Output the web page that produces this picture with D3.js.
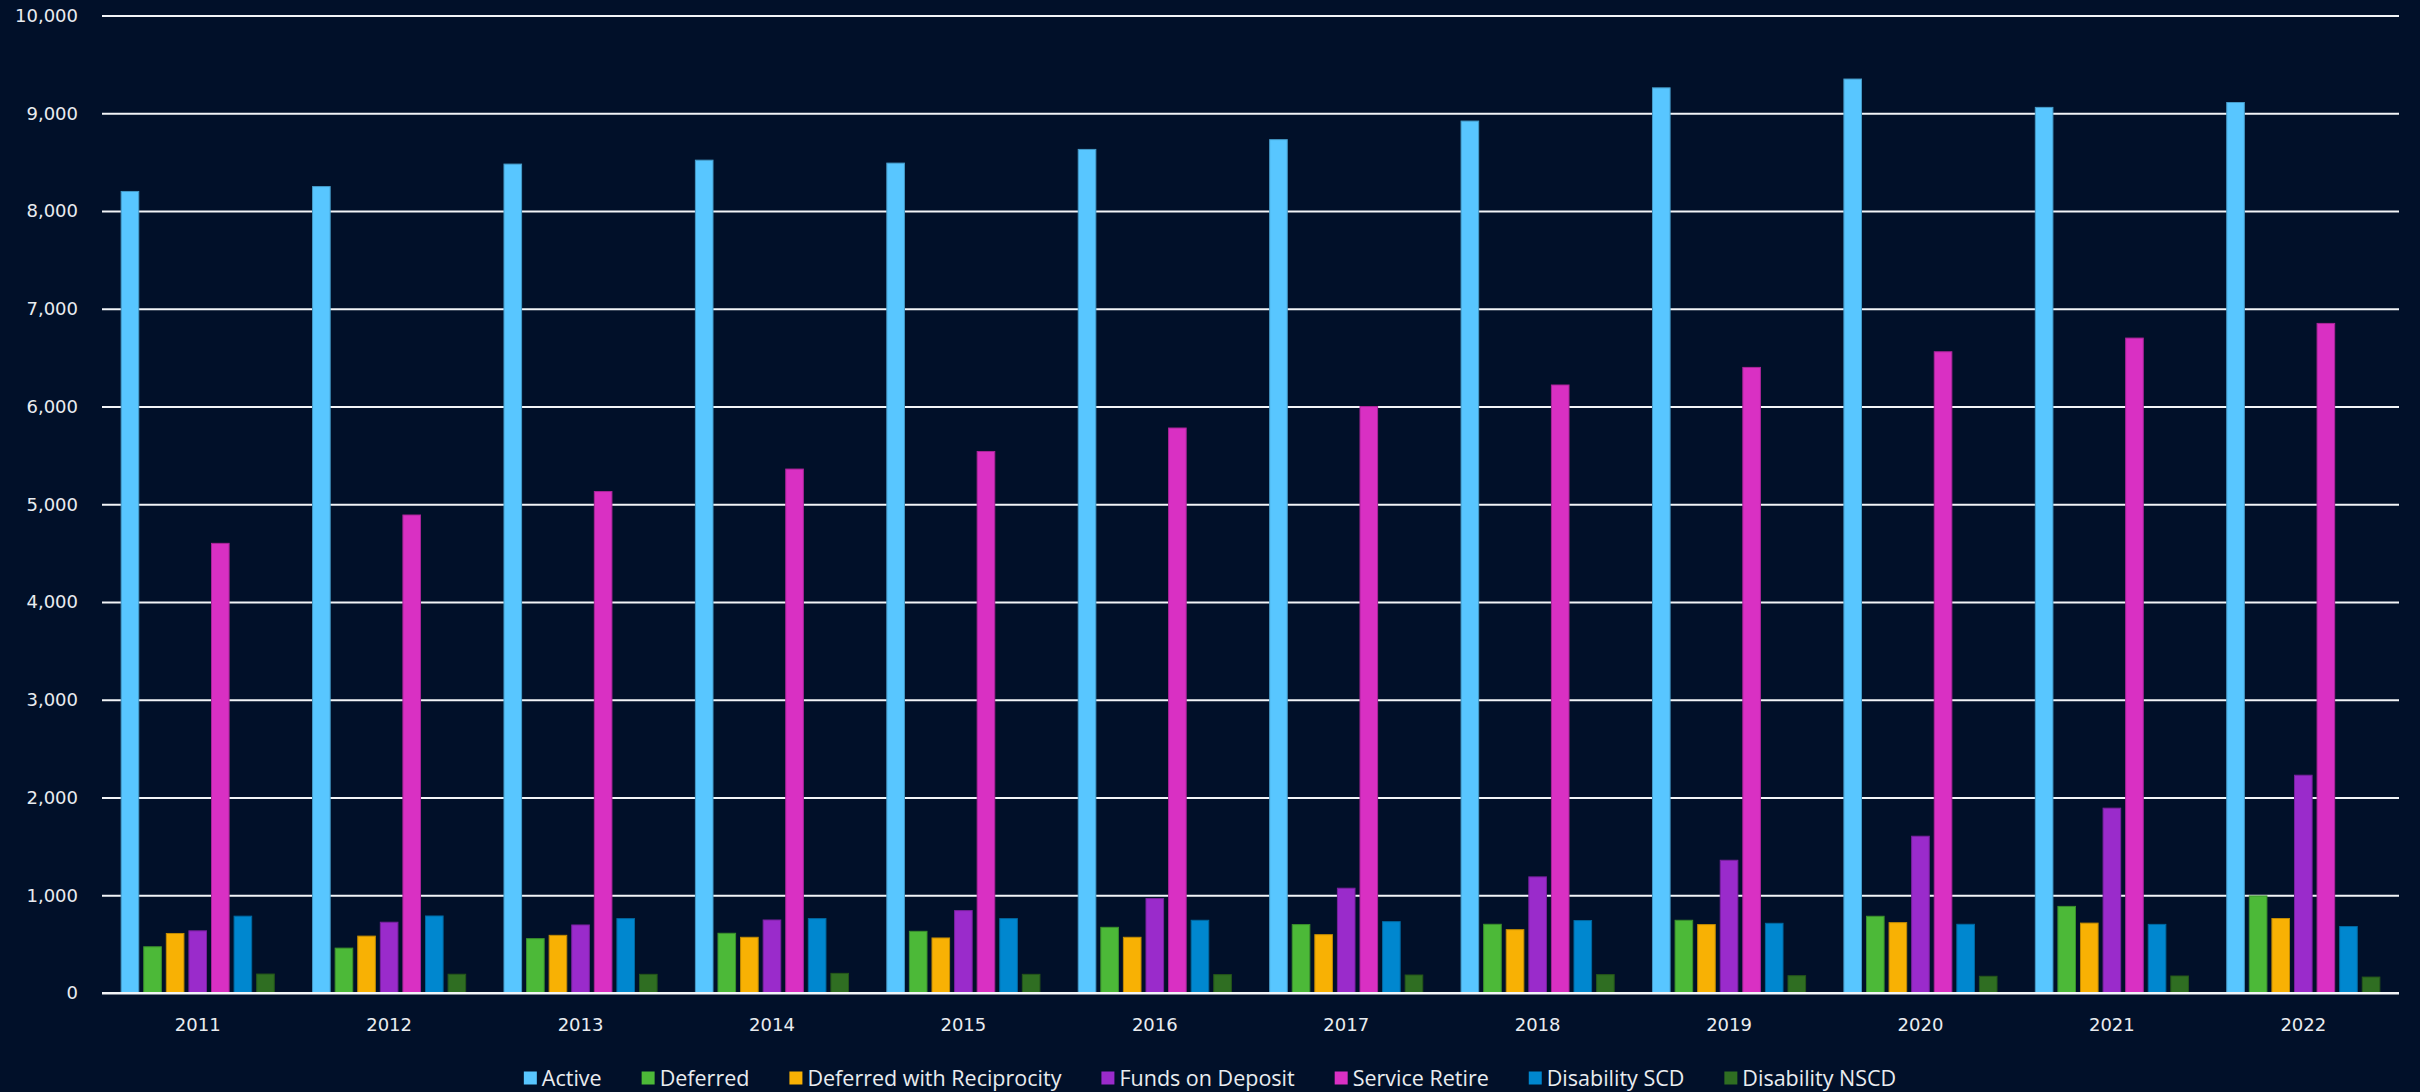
<!DOCTYPE html>
<html>
<head>
<meta charset="utf-8">
<script src="https://cdn.jsdelivr.net/npm/d3@7"></script>
<style>
  html, body { margin: 0; padding: 0; background: #011029; }
  svg { display: block; }
  text { font-family: "Open Sans", "Noto Sans", sans-serif; fill: #e9ecf0; }
  .axis-label { font-family: "DejaVu Sans", "Open Sans", sans-serif; }
</style>
</head>
<body>
<svg id="chart" width="2420" height="1092"></svg>
<script>
// Membership counts by plan year
const years = ["2011", "2012", "2013", "2014", "2015", "2016", "2017", "2018", "2019", "2020", "2021", "2022"];

const seriesNames = ["Active", "Deferred", "Deferred with Reciprocity", "Funds on Deposit",
                     "Service Retire", "Disability SCD", "Disability NSCD"];

const seriesColors = ["#58c6ff", "#4cb938", "#f8b104", "#9a2bcb", "#d930c3", "#0087cf", "#2f6e22"];

const active          = [8200, 8250, 8480, 8520, 8490, 8630, 8730, 8920, 9260, 9350, 9060, 9110];
const deferred        = [473, 459, 556, 611, 631, 672, 700, 703, 744, 785, 886, 993];
const deferredRecip   = [609, 582, 590, 570, 563, 570, 597, 648, 700, 720, 715, 762];
const fundsOnDeposit  = [636, 724, 696, 747, 843, 966, 1072, 1188, 1358, 1604, 1891, 2228];
const serviceRetire   = [4600, 4890, 5130, 5360, 5540, 5780, 6000, 6220, 6400, 6560, 6700, 6850];
const disabilitySCD   = [786, 788, 761, 761, 761, 744, 730, 741, 713, 703, 702, 680];
const disabilityNSCD  = [194, 192, 191, 201, 191, 188, 184, 188, 177, 171, 174, 163];

const yTicks = [0, 1000, 2000, 3000, 4000, 5000, 6000, 7000, 8000, 9000, 10000];

const seriesValues = [active, deferred, deferredRecip, fundsOnDeposit, serviceRetire, disabilitySCD, disabilityNSCD];

const rows = years.map((yr, i) => ({
  year: yr,
  values: seriesNames.map((name, s) => ({ name, s, value: seriesValues[s][i] }))
}));

const svg = d3.select("#chart");
const plot = { left: 102, right: 2399, top: 15.5, bottom: 993 };

const x0 = d3.scaleBand().domain(years).range([plot.left, plot.right])
  .paddingInner(0.2).paddingOuter(0.1);
const x1 = d3.scaleBand().domain(seriesNames).range([0, x0.bandwidth()])
  .paddingInner(0.22).paddingOuter(0);
const y = d3.scaleLinear().domain([0, 10000]).range([plot.bottom, plot.top]);

// horizontal gridlines + value labels
const yAxis = svg.append("g")
  .attr("transform", `translate(${plot.left},0)`)
  .call(d3.axisLeft(y).tickValues(yTicks).tickFormat(d3.format(","))
    .tickSize(-(plot.right - plot.left)).tickPadding(24));
yAxis.select(".domain").remove();
yAxis.selectAll(".tick line").attr("stroke", "#f2f4f7").attr("stroke-width", 2);
yAxis.selectAll(".tick text").attr("class", "axis-label").attr("font-size", 18).attr("fill", "#e9ecf0");

// year labels
const xAxis = svg.append("g")
  .attr("transform", `translate(0,${plot.bottom})`)
  .call(d3.axisBottom(x0).tickSize(0).tickPadding(25));
xAxis.select(".domain").remove();
xAxis.selectAll(".tick text").attr("class", "axis-label").attr("font-size", 18).attr("fill", "#e9ecf0");

// grouped bars
const groups = svg.append("g").selectAll("g")
  .data(rows).join("g")
  .attr("transform", d => `translate(${x0(d.year)},0)`);

groups.selectAll("rect")
  .data(d => d.values).join("rect")
  .attr("x", d => x1(d.name))
  .attr("y", d => y(d.value))
  .attr("width", x1.bandwidth())
  .attr("height", d => y(0) - y(d.value))
  .attr("fill", d => seriesColors[d.s])
  .attr("stroke", d => d3.color(seriesColors[d.s]).darker(0.7))
  .attr("stroke-width", 1);

// redraw baseline on top of bars
svg.append("line")
  .attr("x1", plot.left).attr("x2", plot.right)
  .attr("y1", y(0)).attr("y2", y(0))
  .attr("stroke", "#f2f4f7").attr("stroke-width", 2);

// legend, centred under the chart
const legend = svg.append("g");
const sq = 13, sqGap = 5, itemGap = 40, legendY = 1078;
const items = legend.selectAll("g").data(seriesNames).join("g");
items.append("rect")
  .attr("width", sq).attr("height", sq).attr("y", legendY - sq / 2)
  .attr("fill", (d, i) => seriesColors[i]);
items.append("text")
  .attr("x", sq + sqGap).attr("y", legendY).attr("dy", "0.35em")
  .attr("font-size", 21.5)
  .text(d => d);
const widths = [];
items.each(function () {
  const w = sq + sqGap + d3.select(this).select("text").node().getComputedTextLength();
  widths.push(w);
});
const total = d3.sum(widths) + itemGap * (widths.length - 1);
let cursor = 1210 - total / 2;
items.attr("transform", (d, i) => {
  const t = `translate(${cursor},0)`;
  cursor += widths[i] + itemGap;
  return t;
});
</script>
</body>
</html>
